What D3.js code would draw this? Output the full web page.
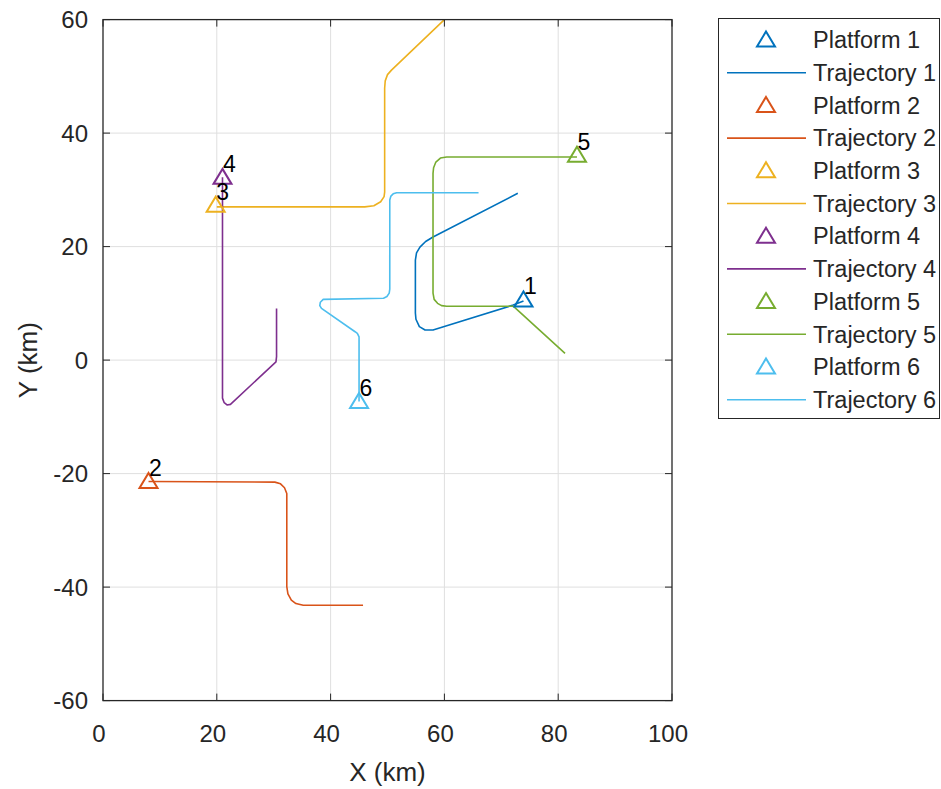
<!DOCTYPE html>
<html>
<head>
<meta charset="utf-8">
<script src="https://cdn.jsdelivr.net/npm/d3@7"></script>
<style>
  html, body { margin: 0; padding: 0; background: #fff; }
  svg { display: block; font-family: "Liberation Sans", Arial, Helvetica, sans-serif; }
</style>
</head>
<body>
<div id="chart"></div>
<script>
// platform positions [x, y] in km
const platforms = [
  [73.9, 10.6],
  [8.0, -21.4],
  [19.8, 27.3],
  [21.0, 32.2],
  [83.3, 36.1],
  [45.0, -7.3]
];

// trajectories, [x, y] in km
const traj1 = [[73.9, 10.4], [72.1, 9.7], [58.0, 5.3], [56.6, 5.3], [55.6, 5.9], [55.0, 7.2], [54.9, 8.3], [54.9, 17.6], [55.1, 18.9], [55.7, 19.9], [56.7, 20.9], [58.0, 21.7], [72.9, 29.4]];
const traj2 = [[8.0, -21.4], [30.2, -21.5], [31.2, -21.8], [31.9, -22.5], [32.3, -23.5], [32.3, -39.9], [32.5, -41.2], [33.1, -42.3], [33.9, -42.9], [35.2, -43.2], [45.7, -43.2]];
const traj3 = [[20.0, 27.0], [46.0, 27.0], [47.6, 27.2], [48.8, 27.9], [49.4, 28.8], [49.5, 29.6], [49.5, 47.9], [49.6, 49.2], [50.0, 50.3], [50.7, 51.1], [60.0, 60.0]];
const traj4 = [[21.0, 32.2], [21.0, -6.7], [21.3, -7.5], [21.8, -7.9], [22.4, -7.8], [30.4, -0.3], [30.5, 0.6], [30.5, 9.1]];
const traj5 = [[83.3, 35.8], [60.4, 35.8], [59.3, 35.6], [58.5, 34.9], [58.1, 33.9], [58.0, 32.9], [58.0, 11.8], [58.2, 10.7], [58.8, 10.0], [59.5, 9.6], [60.4, 9.5], [72.1, 9.5], [81.2, 1.2]];
const traj6 = [[45.0, -7.3], [45.0, 4.1], [44.7, 4.7], [44.3, 5.0], [38.4, 9.1], [38.1, 9.6], [38.2, 10.2], [38.7, 10.7], [49.3, 10.9], [49.9, 11.2], [50.3, 11.8], [50.4, 12.5], [50.4, 28.2], [50.6, 28.9], [51.0, 29.3], [51.6, 29.5], [66.0, 29.5]];
const trajectories = [traj1, traj2, traj3, traj4, traj5, traj6];

const labels = ['1', '2', '3', '4', '5', '6'];
const colors = ['#0072BD', '#D95319', '#EDB120', '#7E2F8E', '#77AC30', '#4DBEEE'];
const xTicks = [0, 20, 40, 60, 80, 100];
const yTicks = [-60, -40, -20, 0, 20, 40, 60];

const W = 941, H = 789;
const plot = { left: 103, right: 672, top: 19.6, bottom: 700.6 };

const svg = d3.select('#chart').append('svg')
  .attr('width', W).attr('height', H);

const x = d3.scaleLinear().domain([0, 100]).range([plot.left, plot.right]);
const y = d3.scaleLinear().domain([-60, 60]).range([plot.bottom, plot.top]);

// grid
svg.append('g').selectAll('line').data(xTicks.slice(1, -1)).join('line')
  .attr('x1', d => x(d)).attr('x2', d => x(d))
  .attr('y1', plot.top).attr('y2', plot.bottom)
  .attr('stroke', '#dfdfdf').attr('stroke-width', 1);
svg.append('g').selectAll('line').data(yTicks.slice(1, -1)).join('line')
  .attr('y1', d => y(d)).attr('y2', d => y(d))
  .attr('x1', plot.left).attr('x2', plot.right)
  .attr('stroke', '#dfdfdf').attr('stroke-width', 1);

// trajectories (clipped to axes)
svg.append('clipPath').attr('id', 'clip').append('rect')
  .attr('x', plot.left).attr('y', plot.top)
  .attr('width', plot.right - plot.left).attr('height', plot.bottom - plot.top);

const line = d3.line()
  .x(d => x(d[0])).y(d => y(d[1]));

svg.append('g').attr('clip-path', 'url(#clip)')
  .selectAll('path').data(trajectories).join('path')
  .attr('d', line)
  .attr('fill', 'none')
  .attr('stroke', (d, i) => colors[i])
  .attr('stroke-width', 1.6)
  .attr('stroke-linejoin', 'round');

// triangle marker
const tri = 'M0,-8.5L9,6.5L-9,6.5Z';

svg.append('g').selectAll('path').data(platforms).join('path')
  .attr('transform', d => `translate(${x(d[0])},${y(d[1])})`)
  .attr('d', tri)
  .attr('fill', 'none')
  .attr('stroke', (d, i) => colors[i])
  .attr('stroke-width', 2);

svg.append('g').selectAll('text').data(platforms).join('text')
  .attr('x', d => x(d[0]) + 0.5)
  .attr('y', d => y(d[1]) - 5.5)
  .attr('font-size', 23)
  .attr('fill', '#000')
  .text((d, i) => labels[i]);

// axes box and ticks
const axisColor = '#262626';
const tickLen = 7;
const ticks = svg.append('g').attr('stroke', axisColor).attr('stroke-width', 1);
xTicks.forEach(t => {
  ticks.append('line').attr('x1', x(t)).attr('x2', x(t)).attr('y1', plot.bottom).attr('y2', plot.bottom - tickLen);
  ticks.append('line').attr('x1', x(t)).attr('x2', x(t)).attr('y1', plot.top).attr('y2', plot.top + tickLen);
});
yTicks.forEach(t => {
  ticks.append('line').attr('y1', y(t)).attr('y2', y(t)).attr('x1', plot.left).attr('x2', plot.left + tickLen);
  ticks.append('line').attr('y1', y(t)).attr('y2', y(t)).attr('x1', plot.right).attr('x2', plot.right - tickLen);
});
svg.append('rect')
  .attr('x', plot.left).attr('y', plot.top)
  .attr('width', plot.right - plot.left).attr('height', plot.bottom - plot.top)
  .attr('fill', 'none').attr('stroke', axisColor).attr('stroke-width', 1.3);

// tick labels
svg.append('g').selectAll('text').data(xTicks).join('text')
  .attr('x', d => x(d) - 4)
  .attr('y', 742)
  .attr('text-anchor', 'middle')
  .attr('font-size', 24)
  .attr('fill', axisColor)
  .text(d => d);
svg.append('g').selectAll('text').data(yTicks).join('text')
  .attr('x', 88)
  .attr('y', d => y(d))
  .attr('dy', '0.35em')
  .attr('text-anchor', 'end')
  .attr('font-size', 24)
  .attr('fill', axisColor)
  .text(d => d);

// axis labels
svg.append('text')
  .attr('x', (plot.left + plot.right) / 2)
  .attr('y', 781)
  .attr('text-anchor', 'middle')
  .attr('font-size', 26)
  .attr('fill', axisColor)
  .text('X (km)');
svg.append('text')
  .attr('transform', `translate(37,${(plot.top + plot.bottom) / 2}) rotate(-90)`)
  .attr('text-anchor', 'middle')
  .attr('font-size', 26)
  .attr('fill', axisColor)
  .text('Y (km)');

// legend
const legend = svg.append('g');
legend.append('rect')
  .attr('x', 718.5).attr('y', 18.5)
  .attr('width', 221).attr('height', 400)
  .attr('fill', '#fff').attr('stroke', axisColor).attr('stroke-width', 1);

const rowH = 32.7;
labels.forEach((lab, i) => {
  const y1 = 40 + (2 * i) * rowH;
  const y2 = y1 + rowH;
  legend.append('path')
    .attr('transform', `translate(766,${y1})`)
    .attr('d', tri)
    .attr('fill', 'none').attr('stroke', colors[i]).attr('stroke-width', 2);
  legend.append('text')
    .attr('x', 813).attr('y', y1).attr('dy', '0.35em')
    .attr('font-size', 23.5).attr('fill', axisColor)
    .text('Platform ' + lab);
  legend.append('line')
    .attr('x1', 727).attr('x2', 806).attr('y1', y2).attr('y2', y2)
    .attr('stroke', colors[i]).attr('stroke-width', 1.6);
  legend.append('text')
    .attr('x', 813).attr('y', y2).attr('dy', '0.35em')
    .attr('font-size', 23.5).attr('fill', axisColor)
    .text('Trajectory ' + lab);
});
</script>
</body>
</html>
